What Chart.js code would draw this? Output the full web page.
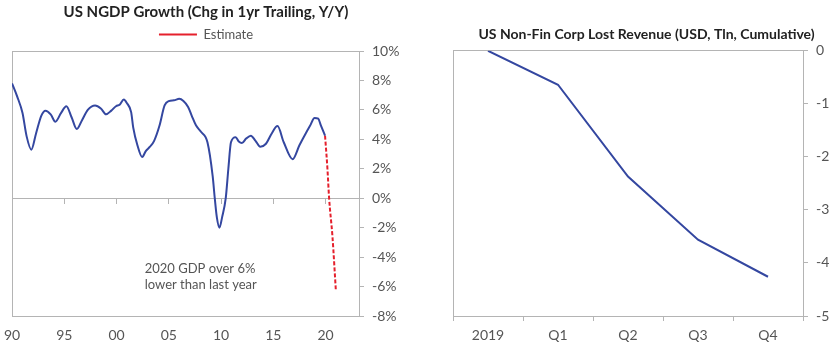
<!DOCTYPE html>
<html>
<head>
<meta charset="utf-8">
<script src="https://cdn.jsdelivr.net/npm/chart.js@4"></script>
<style>
  body { margin: 0; background: #fff; }
  canvas { position: absolute; top: 0; }
  #ngdp { left: 0; }
  #revenue { left: 440px; }
</style>
</head>
<body>
<canvas id="ngdp" width="400" height="346"></canvas>
<canvas id="revenue" width="400" height="346"></canvas>
<script>
// nominal GDP growth, y/y %, by (fractional) year
const ngdpYears = [
    1990.0, 1990.5, 1991.0, 1991.4, 1991.85, 1992.3, 1992.8, 1993.2, 1993.7, 1994.15,
    1994.7, 1995.2, 1995.7, 1996.2, 1996.7, 1997.25, 1997.95, 1998.5, 1999.0, 1999.5,
    1999.95, 2000.3, 2000.7, 2001.0, 2001.4, 2001.6, 2002.0, 2002.45, 2002.8, 2003.2,
    2003.6, 2004.1, 2004.6, 2005.0, 2005.5, 2006.0, 2006.4, 2006.85, 2007.2, 2007.6,
    2008.1, 2008.7, 2009.2, 2009.4, 2009.6, 2009.85, 2010.1, 2010.45, 2010.7, 2010.95,
    2011.4, 2011.7, 2012.0, 2012.4, 2012.85, 2013.3, 2013.75, 2014.3, 2014.85, 2015.4,
    2016.0, 2016.85, 2017.5, 2018.1, 2018.5, 2018.95, 2019.3, 2019.55, 2019.95
]
const ngdpGrowth = [
    7.8, 6.9, 5.8, 4.2, 3.3, 4.4, 5.6, 5.95, 5.7, 5.2,
    5.8, 6.25, 5.5, 4.7, 5.3, 6.0, 6.3, 6.1, 5.7, 5.95,
    6.25, 6.35, 6.7, 6.45, 5.85, 4.8, 3.6, 2.8, 3.2, 3.5,
    3.9, 4.9, 6.3, 6.6, 6.65, 6.75, 6.6, 6.2, 5.6, 4.95,
    4.5, 3.8, 1.5, 0.0, -1.3, -2.0, -1.3, 0.0, 2.0, 3.8,
    4.15, 3.85, 3.75, 4.05, 4.25, 3.9, 3.5, 3.7, 4.4, 4.9,
    3.8, 2.65, 3.6, 4.4, 4.9, 5.45, 5.4, 4.95, 4.25
]
const estimateYears = [2019.95, 2020.02, 2020.18, 2020.34, 2020.66, 2020.98]
const estimateGrowth = [4.25, 3.6, 2.0, 0.0, -2.6, -6.2]

const yearTicks = [1990, 1995, 2000, 2005, 2010, 2015, 2020]
const yearTickLabels = ['90', '95', '00', '05', '10', '15', '20']
const noteLines = ['2020 GDP over 6%', 'lower than last year']
const noteAt = { x: 2002.7, y: -4.8 }

// cumulative lost revenue, USD tln
const quarters = ['2019', 'Q1', 'Q2', 'Q3', 'Q4']
const lostRevenue = [0, -0.64, -2.37, -3.56, -4.26]

const blue = '#3447a0'
const red = '#e5202c'
const axisGrey = '#b4b4b4'
const textGrey = '#555'

Chart.defaults.font.family = 'Lato'
Chart.defaults.color = textGrey
Chart.defaults.animation = false

const toPoints = (xs, ys) => xs.map((x, i) => ({ x, y: ys[i] }))

const noteLabel = {
    id: 'noteLabel',
    afterDatasetsDraw: chart => {
        const { ctx, scales } = chart
        const x = scales.x.getPixelForValue(noteAt.x)
        const y = scales.y.getPixelForValue(noteAt.y)
        ctx.save()
        ctx.font = '13px Lato'
        ctx.fillStyle = textGrey
        ctx.textBaseline = 'middle'
        noteLines.forEach((line, i) => ctx.fillText(line, x, y + i * 16))
        ctx.restore()
    }
}

const createCharts = () => {
    const ngdpChart = new Chart(document.getElementById('ngdp'), {
        type: 'line',
        data: {
            datasets: [{
                label: 'NGDP',
                data: toPoints(ngdpYears, ngdpGrowth),
                borderColor: blue,
                borderWidth: 2,
                pointRadius: 0,
                cubicInterpolationMode: 'monotone'
            }, {
                label: 'Estimate',
                data: toPoints(estimateYears, estimateGrowth),
                borderColor: red,
                backgroundColor: red,
                borderWidth: 2,
                borderDash: [4, 2],
                pointRadius: 0,
                cubicInterpolationMode: 'monotone'
            }]
        },
        options: {
            responsive: false,
            layout: { padding: { left: 12 } },
            plugins: {
                title: {
                    display: true,
                    text: 'US NGDP Growth (Chg in 1yr Trailing, Y/Y)',
                    color: '#222',
                    font: { size: 15, weight: 'bold' },
                    padding: { top: 3, bottom: 1 }
                },
                legend: {
                    labels: {
                        filter: item => item.datasetIndex === 1,
                        usePointStyle: true,
                        pointStyle: 'line',
                        pointStyleWidth: 38,
                        font: { size: 13 },
                        color: textGrey,
                        padding: 6
                    }
                },
                tooltip: { enabled: false }
            },
            scales: {
                x: {
                    type: 'linear',
                    min: 1990,
                    max: 2023.2,
                    // let the "90" label hang over the left edge
                    afterFit: s => {
                        s.height = 30
                        s.paddingLeft = 0
                        s.paddingRight = 0
                    },
                    border: { color: axisGrey },
                    grid: {
                        drawTicks: false,
                        color: c => c.tick && c.tick.value === 1990 ? axisGrey : 'transparent'
                    },
                    ticks: {
                        stepSize: 5,
                        includeBounds: false,
                        padding: 11,
                        font: { size: 14 },
                        callback: v => yearTickLabels[yearTicks.indexOf(v)]
                    }
                },
                // tick marks sitting on the 0% line
                zero: {
                    type: 'linear',
                    axis: 'x',
                    position: { y: 0 },
                    min: 1990,
                    max: 2023.2,
                    border: { color: axisGrey },
                    grid: { drawOnChartArea: false, tickLength: 5, tickColor: axisGrey },
                    ticks: { display: false, stepSize: 5, includeBounds: false }
                },
                y: {
                    position: 'right',
                    min: -8,
                    max: 10,
                    afterFit: s => { s.width = 41 },
                    border: { color: axisGrey },
                    grid: {
                        color: c => c.tick && c.tick.value === 10 ? axisGrey : 'transparent',
                        tickColor: axisGrey,
                        tickLength: 5
                    },
                    ticks: { stepSize: 2, padding: 8, font: { size: 14 }, callback: v => v + '%' }
                }
            }
        },
        plugins: [noteLabel]
    })

    const revenueChart = new Chart(document.getElementById('revenue'), {
        type: 'line',
        data: {
            labels: quarters,
            datasets: [{
                data: lostRevenue,
                borderColor: blue,
                borderWidth: 2,
                pointRadius: 0,
                tension: 0
            }]
        },
        options: {
            responsive: false,
            layout: { padding: { left: 13 } },
            plugins: {
                title: {
                    display: true,
                    text: 'US Non-Fin Corp Lost Revenue (USD, Tln, Cumulative)',
                    color: '#222',
                    font: { size: 14, weight: 'bold' },
                    padding: { top: 26, bottom: 8 }
                },
                legend: { display: false },
                tooltip: { enabled: false }
            },
            scales: {
                x: {
                    offset: true,
                    afterFit: s => { s.height = 30 },
                    border: { color: axisGrey },
                    grid: {
                        offset: true,
                        tickLength: 5,
                        tickColor: axisGrey,
                        color: c => c.index === 0 ? axisGrey : 'transparent'
                    },
                    ticks: { padding: 6, font: { size: 14 } }
                },
                y: {
                    position: 'right',
                    min: -5,
                    max: 0,
                    afterFit: s => { s.width = 37 },
                    border: { color: axisGrey },
                    grid: {
                        color: c => c.tick && c.tick.value === 0 ? axisGrey : 'transparent',
                        tickColor: axisGrey,
                        tickLength: 5
                    },
                    ticks: { stepSize: 1, padding: 8, font: { size: 14 } }
                }
            }
        }
    })
}

createCharts()
</script>
</body>
</html>
